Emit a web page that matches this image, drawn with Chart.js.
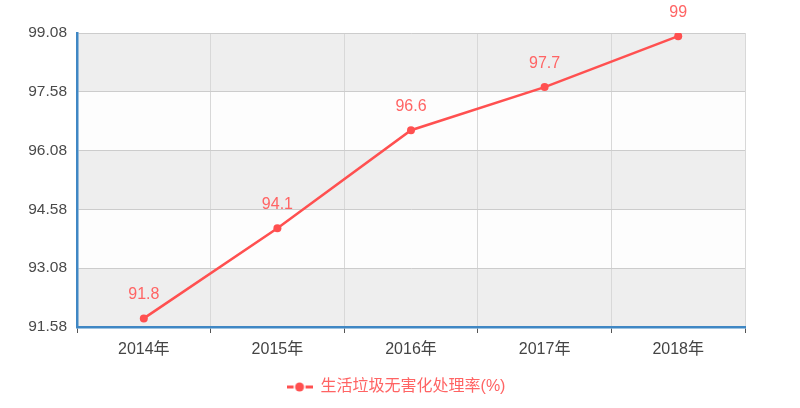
<!DOCTYPE html>
<html>
<head>
<meta charset="utf-8">
<script src="https://cdn.jsdelivr.net/npm/chart.js@4/dist/chart.umd.min.js"></script>
<style>
html,body{margin:0;padding:0;background:#fff;}
#wrap{width:800px;height:408px;position:relative;}
</style>
</head>
<body>
<div id="wrap"><canvas id="c" width="800" height="408"></canvas></div>
<script>
const categories = ['2014年', '2015年', '2016年', '2017年', '2018年'];
const seriesName = '生活垃圾无害化处理率(%)';
const rates = [91.8, 94.1, 96.6, 97.7, 99];
const yTicks = [91.58, 93.08, 94.58, 96.08, 97.58, 99.08];

const FONT = '"Liberation Sans", Arial, "Noto Sans CJK SC", sans-serif';
const RED = '#ff5050';
const LABEL_RED = '#ff6464';

// legend icon: -●-
const icon = document.createElement('canvas');
icon.width = 26; icon.height = 12;
(function(){
  const g = icon.getContext('2d');
  g.strokeStyle = RED; g.lineWidth = 3;
  g.beginPath(); g.moveTo(0,6); g.lineTo(7,6); g.stroke();
  g.beginPath(); g.moveTo(19,6); g.lineTo(26,6); g.stroke();
  g.fillStyle = RED;
  g.beginPath(); g.arc(13,6,4.5,0,Math.PI*2); g.fill();
})();

const bandsPlugin = {
  id: 'bands',
  beforeDraw(chart) {
    const {ctx, chartArea: a, scales: {y}} = chart;
    ctx.save();
    for (let i = 0; i < yTicks.length - 1; i++) {
      const top = y.getPixelForValue(yTicks[i + 1]);
      const bot = y.getPixelForValue(yTicks[i]);
      ctx.fillStyle = (i % 2 === 0) ? '#eeeeee' : '#fdfdfd';
      ctx.fillRect(a.left, top, a.right - a.left, bot - top);
    }
    ctx.restore();
  }
};

const labelsPlugin = {
  id: 'vlabels',
  afterDatasetsDraw(chart) {
    const {ctx} = chart;
    const meta = chart.getDatasetMeta(0);
    ctx.save();
    ctx.fillStyle = LABEL_RED;
    ctx.font = '16px ' + FONT;
    ctx.textAlign = 'center';
    ctx.textBaseline = 'middle';
    meta.data.forEach((pt, i) => {
      ctx.fillText(String(rates[i]), pt.x, pt.y - 24);
    });
    ctx.restore();
  }
};

new Chart(document.getElementById('c'), {
  type: 'line',
  data: {
    labels: categories,
    datasets: [{
      label: seriesName,
      data: rates,
      borderColor: RED,
      backgroundColor: RED,
      borderWidth: 2.5,
      pointRadius: 4,
      pointBackgroundColor: RED,
      pointBorderWidth: 0,
      tension: 0,
      fill: false
    }]
  },
  options: {
    responsive: false,
    animation: false,
    layout: { padding: { top: 33, right: 8, left: 0, bottom: 3 } },
    plugins: {
      tooltip: { enabled: false },
      legend: {
        position: 'bottom',
        labels: {
          color: LABEL_RED,
          font: { size: 16, family: FONT },
          usePointStyle: true,
          pointStyleWidth: 26,
          padding: 12,
          generateLabels(chart) {
            return [{
              text: seriesName,
              fontColor: LABEL_RED,
              pointStyle: icon,
              fillStyle: RED,
              strokeStyle: RED,
              lineWidth: 0,
              datasetIndex: 0
            }];
          }
        }
      }
    },
    scales: {
      x: {
        type: 'category',
        offset: true,
        afterFit(s) { s.height = 40; },
        grid: {
          offset: true,
          color: '#d8d8d8',
          lineWidth: 1,
          drawTicks: true,
          tickLength: 6,
          tickColor: '#555',
          tickWidth: 1
        },
        border: { display: true, color: '#3f87c4', width: 2.5 },
        ticks: { color: '#444', font: { size: 16, family: FONT }, padding: 7 }
      },
      y: {
        min: 91.58,
        max: 99.08,
        afterFit(s) { s.width = 77; },
        afterBuildTicks(s) { s.ticks = yTicks.map(v => ({ value: v })); },
        grid: { color: '#cccccc', lineWidth: 1, drawTicks: false },
        border: { display: true, color: '#3f87c4', width: 2.5 },
        ticks: {
          color: '#4a4a4a',
          font: { size: 15.5, family: FONT },
          padding: 10,
          callback: v => Number(v).toFixed(2)
        }
      },
      yRight: {
        position: 'right',
        min: 0,
        max: 1,
        afterFit(s) { s.width = 47; },
        grid: { display: false, drawTicks: false },
        border: { display: false },
        ticks: { display: false }
      }
    }
  },
  plugins: [bandsPlugin, labelsPlugin]
});
</script>
</body>
</html>
